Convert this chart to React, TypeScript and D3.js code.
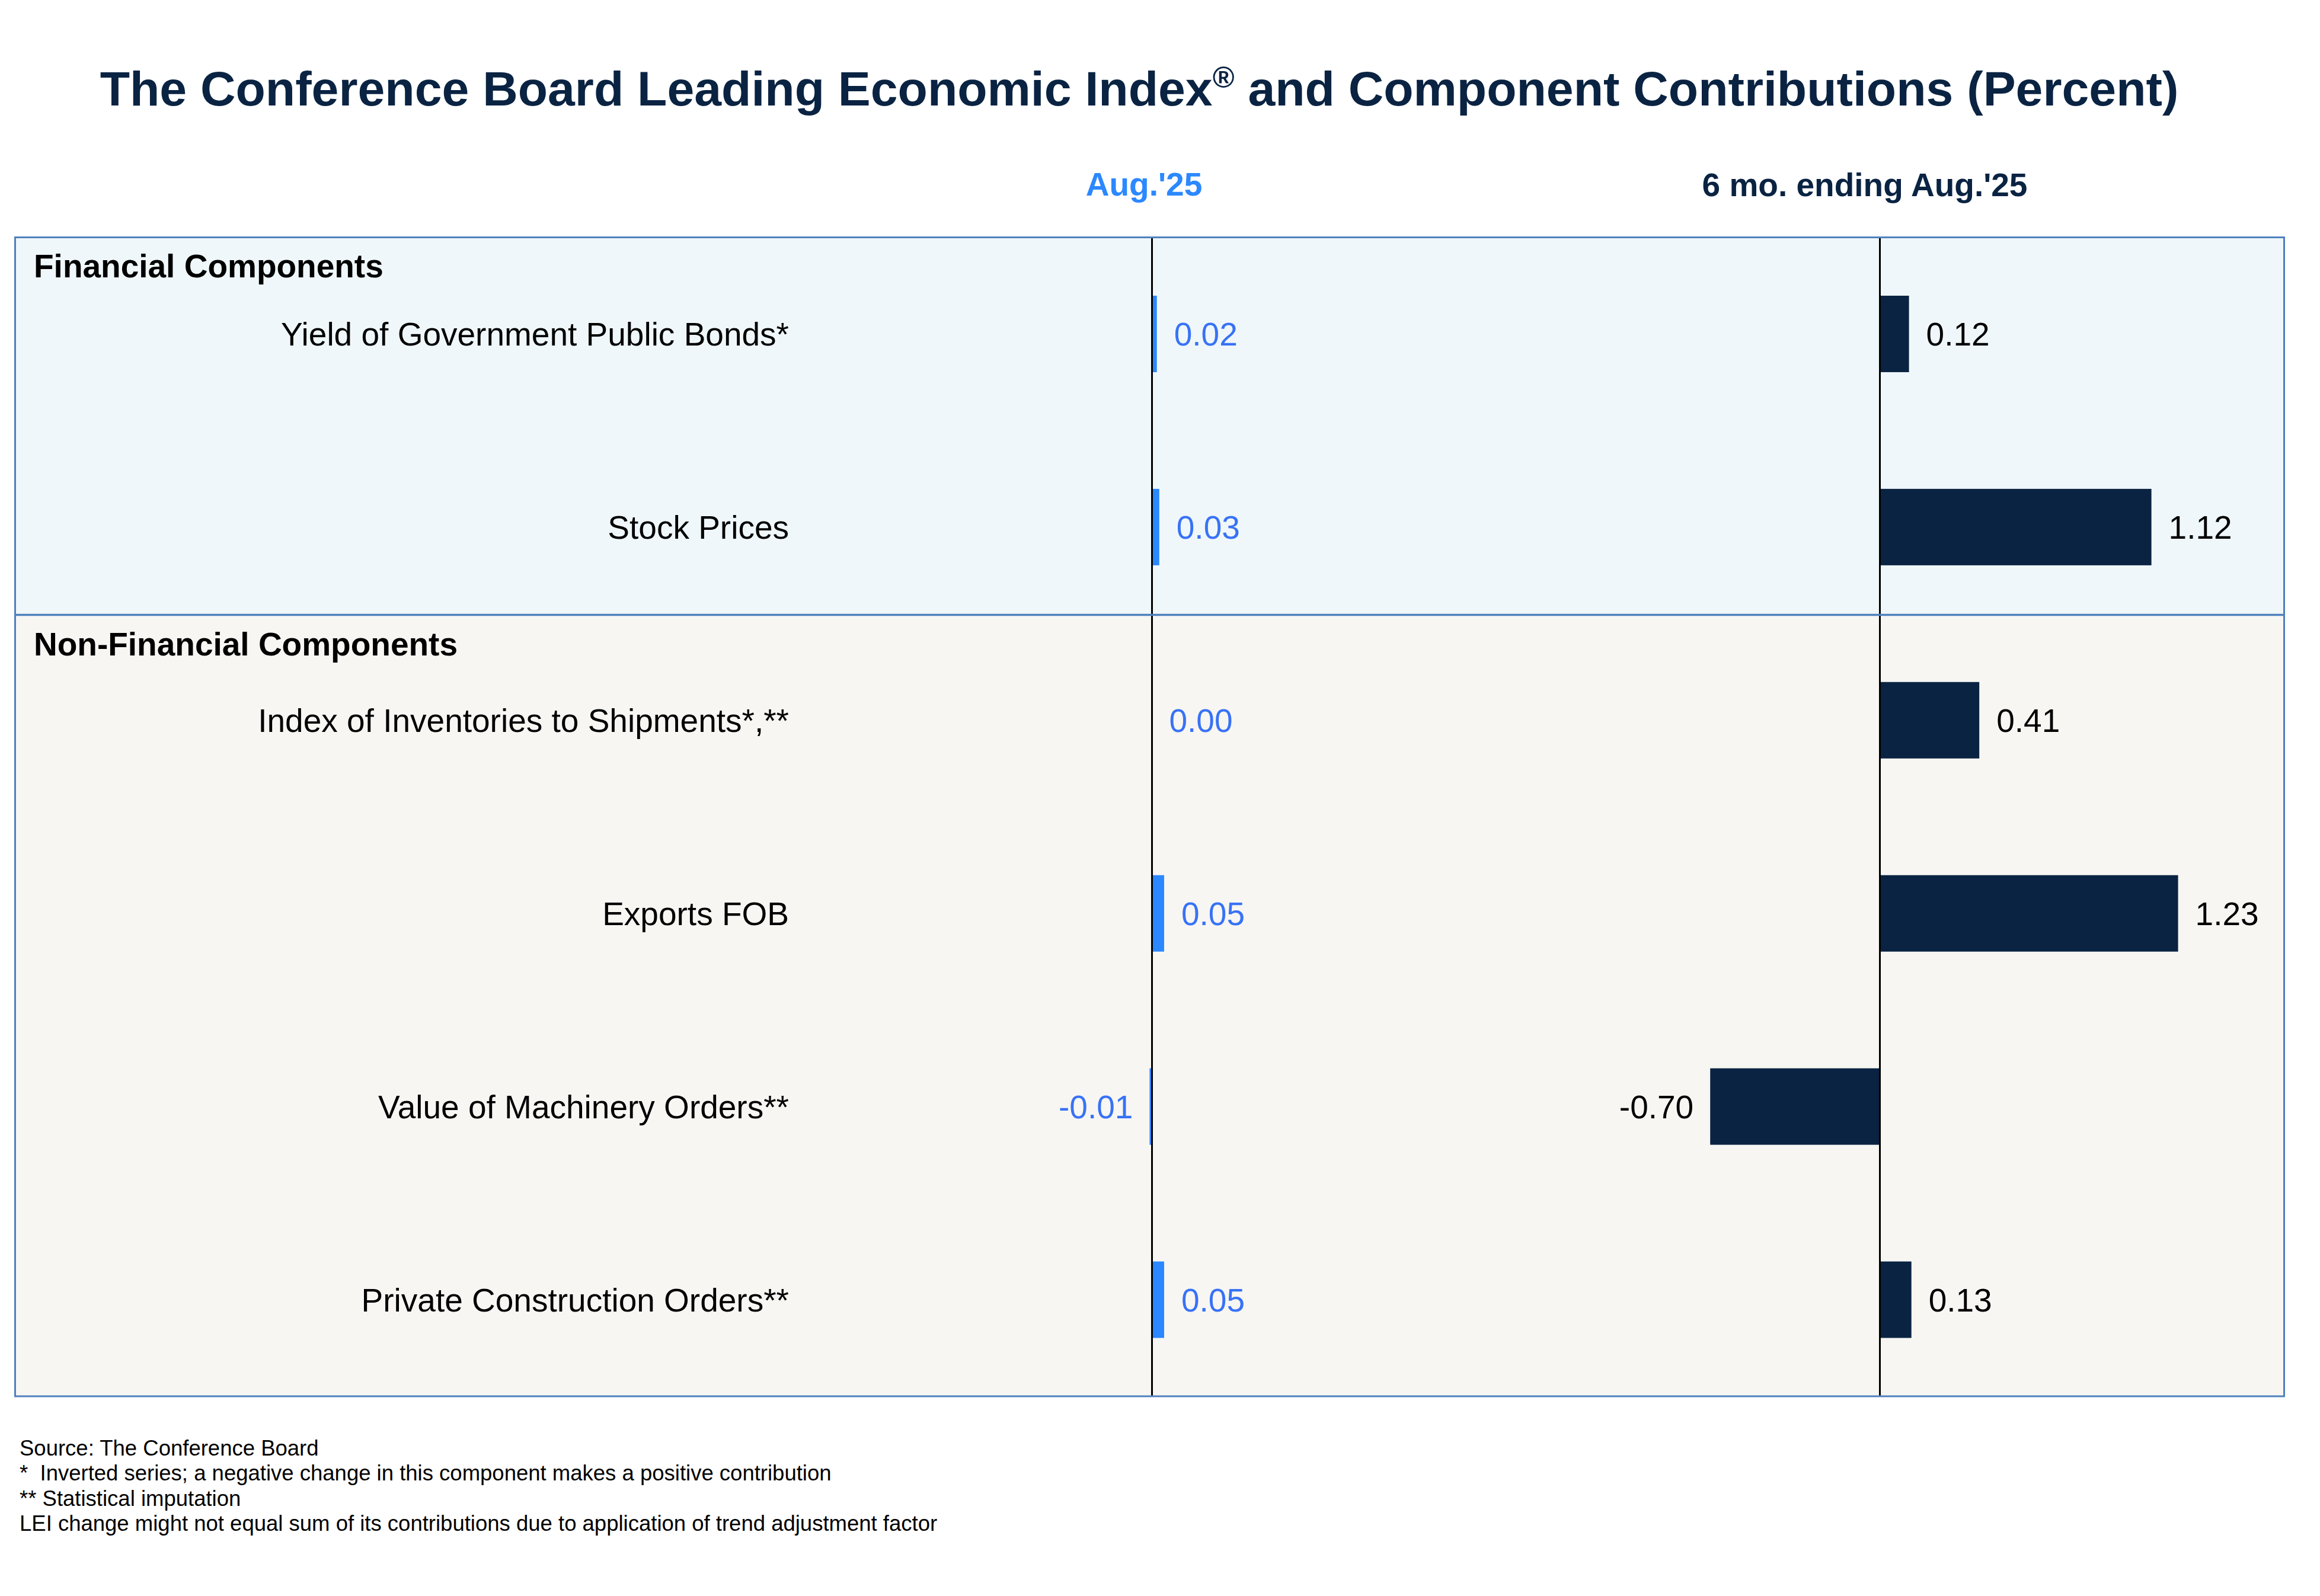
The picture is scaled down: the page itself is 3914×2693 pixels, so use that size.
import React from "react";
import * as d3 from "d3";

const TITLE = "The Conference Board Leading Economic Index";
const TITLE_END = " and Component Contributions (Percent)";
const HEADER_MONTH = "Aug.'25";
const HEADER_SIX = "6 mo. ending Aug.'25";

const groups = ["Financial Components", "Non-Financial Components"];
const categories = [
  "Yield of Government Public Bonds*",
  "Stock Prices",
  "Index of Inventories to Shipments*,**",
  "Exports FOB",
  "Value of Machinery Orders**",
  "Private Construction Orders**",
];
const categoryGroup = [0, 0, 1, 1, 1, 1];
const monthValues = [0.02, 0.03, 0.0, 0.05, -0.01, 0.05];
const sixMonthValues = [0.12, 1.12, 0.41, 1.23, -0.7, 0.13];

const footnotes = [
  "Source: The Conference Board",
  "*  Inverted series; a negative change in this component makes a positive contribution",
  "** Statistical imputation",
  "LEI change might not equal sum of its contributions due to application of trend adjustment factor",
];

const W = 3914;
const H = 2693;
const FONT = "'Liberation Sans', Arial, Helvetica, sans-serif";
const NAVY = "#0a2342";
const BLUE_BAR = "#2b88ff";
const BLUE_TEXT = "#3872f6";
const BORDER = "#4f81bd";

export default function App() {
  const boxLeft = 25.5;
  const boxRight = 3853.5;
  const boxTop = 400.5;
  const boxBottom = 2356;
  const divider = 1037.5;

  const y = d3
    .scalePoint<string>()
    .domain(categories)
    .range([boxTop, boxBottom])
    .padding(0.5);
  const barH = 129;

  const unit = 409;
  const zeroMonth = 1943.5;
  const zeroSix = 3171.5;
  const xMonth = d3.scaleLinear().domain([0, 1]).range([zeroMonth, zeroMonth + unit]);
  const xSix = d3.scaleLinear().domain([0, 1]).range([zeroSix, zeroSix + unit]);

  const fmt = (v: number) => v.toFixed(2);

  const renderBars = (
    values: number[],
    x: d3.ScaleLinear<number, number>,
    fill: string,
    textFill: string
  ) =>
    values.map((v, i) => {
      const cy = y(categories[i]) as number;
      const x0 = x(0);
      const x1 = x(v);
      const left = Math.min(x0, x1);
      const w = Math.abs(x1 - x0);
      const neg = v < 0;
      return (
        <g key={i}>
          {w > 0 && <rect x={left} y={cy - barH / 2} width={w} height={barH} fill={fill} />}
          <text
            x={neg ? left - 28 : x1 + 29}
            y={cy + 20}
            textAnchor={neg ? "end" : "start"}
            fontSize={55}
            fill={textFill}
            fontFamily={FONT}
          >
            {fmt(v)}
          </text>
        </g>
      );
    });

  return (
    <>
      <style>{`body{margin:0}`}</style>
      <svg width={W} height={H} viewBox={`0 0 ${W} ${H}`} style={{ display: "block" }}>
        <rect x={0} y={0} width={W} height={H} fill="#ffffff" />
        <text x={1922} y={178} textAnchor="middle" fontSize={82.4} fontWeight="bold" fill={NAVY} fontFamily={FONT}>
          {TITLE}
          <tspan fontSize={50} dy={-30}>®</tspan>
          <tspan dy={30}>{TITLE_END}</tspan>
        </text>
        <text x={1930} y={330} textAnchor="middle" fontSize={55} fontWeight="bold" fill={BLUE_BAR} fontFamily={FONT}>
          {HEADER_MONTH}
        </text>
        <text x={3146} y={331} textAnchor="middle" fontSize={55} fontWeight="bold" fill={NAVY} fontFamily={FONT}>
          {HEADER_SIX}
        </text>

        <rect x={boxLeft} y={boxTop} width={boxRight - boxLeft} height={divider - boxTop} fill="#eff7fa" />
        <rect x={boxLeft} y={divider} width={boxRight - boxLeft} height={boxBottom - divider} fill="#f7f6f3" />

        <text x={57} y={468} fontSize={55} fontWeight="bold" fill="#000" fontFamily={FONT}>
          {groups[0]}
        </text>
        <text x={57} y={1106} fontSize={55} fontWeight="bold" fill="#000" fontFamily={FONT}>
          {groups[1]}
        </text>

        {categories.map((c, i) => (
          <text
            key={c}
            x={1331}
            y={(y(c) as number) + 20}
            textAnchor="end"
            fontSize={55}
            fill="#000"
            fontFamily={FONT}
            data-group={categoryGroup[i]}
          >
            {c}
          </text>
        ))}

        {renderBars(monthValues, xMonth, BLUE_BAR, BLUE_TEXT)}
        {renderBars(sixMonthValues, xSix, NAVY, "#000")}

        <line x1={zeroMonth} x2={zeroMonth} y1={boxTop} y2={boxBottom} stroke="#000" strokeWidth={3} />
        <line x1={zeroSix} x2={zeroSix} y1={boxTop} y2={boxBottom} stroke="#000" strokeWidth={3} />

        <line x1={boxLeft} x2={boxRight} y1={divider} y2={divider} stroke={BORDER} strokeWidth={3.5} />
        <rect
          x={boxLeft}
          y={boxTop}
          width={boxRight - boxLeft}
          height={boxBottom - boxTop}
          fill="none"
          stroke={BORDER}
          strokeWidth={3}
        />

        {footnotes.map((f, i) => (
          <text key={i} x={33} y={2456 + i * 42.3} fontSize={36.5} fill="#000" fontFamily={FONT} xmlSpace="preserve">
            {f}
          </text>
        ))}
      </svg>
    </>
  );
}
